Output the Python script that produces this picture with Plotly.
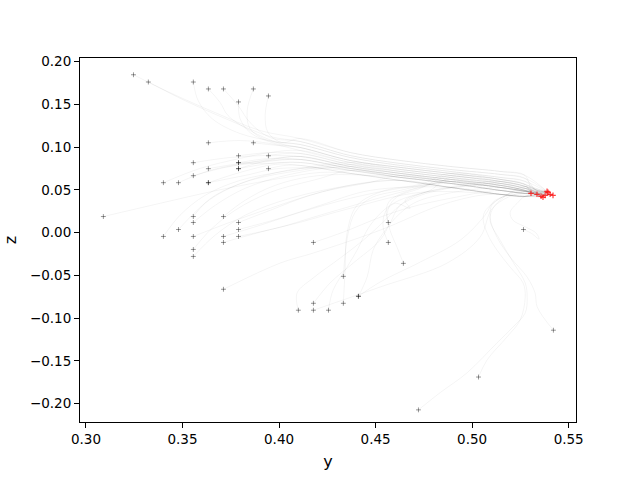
import plotly.graph_objects as go

# --- red end points (final positions) ---
end_y = [0.5305, 0.5336, 0.5357, 0.5378, 0.5388, 0.5393, 0.5404, 0.5419, 0.5367]
end_z = [0.0461, 0.0449, 0.0426, 0.0437, 0.0484, 0.0472, 0.0449, 0.0437, 0.0414]

# --- shared bundle the paths run into before the end cluster ---
lane_y = [0.4109, 0.4368, 0.4627, 0.4886, 0.5145, 0.5274]
lane_z = [
    [0.1102, 0.0938, 0.0845, 0.0775, 0.0717, 0.0670],
    [0.1067, 0.0903, 0.0810, 0.0740, 0.0682, 0.0635],
    [0.1032, 0.0880, 0.0787, 0.0717, 0.0647, 0.0600],
    [0.0997, 0.0845, 0.0764, 0.0694, 0.0624, 0.0565],
    [0.0962, 0.0822, 0.0740, 0.0670, 0.0600, 0.0542],
    [0.0927, 0.0798, 0.0717, 0.0647, 0.0577, 0.0519],
    [0.0892, 0.0775, 0.0694, 0.0624, 0.0554, 0.0495],
    [0.0857, 0.0752, 0.0670, 0.0600, 0.0530, 0.0484],
    [0.0822, 0.0729, 0.0647, 0.0577, 0.0495, 0.0460],
    [0.0787, 0.0694, 0.0612, 0.0530, 0.0449, 0.0425],
]

# --- start of each path (first point = start marker) ---
lead_y = [
    [0.3246, 0.3436, 0.3669, 0.3902],
    [0.3323, 0.3513, 0.3746, 0.3954],
    [0.3556, 0.3581, 0.3653, 0.3798, 0.3980],
    [0.3634, 0.3695, 0.3736, 0.3850, 0.4005],
    [0.3712, 0.3788, 0.3850, 0.3954],
    [0.3867, 0.3835, 0.3850, 0.3943],
    [0.3945, 0.3928, 0.3943, 0.4016],
    [0.3790, 0.3798, 0.3850, 0.3980],
    [0.3634, 0.3798, 0.3954],
    [0.3867, 0.3995],
    [0.3790, 0.3954],
    [0.3945],
    [0.3556, 0.3746, 0.3928],
    [0.3790, 0.3954],
    [0.3790, 0.3928],
    [0.3634, 0.3798, 0.3954],
    [0.3790, 0.3954],
    [0.3790, 0.3943],
    [0.3945, 0.4031],
    [0.3556, 0.3721, 0.3902],
    [0.3401, 0.3591, 0.3798, 0.3954],
    [0.3479, 0.3643, 0.3850, 0.3980],
    [0.3634, 0.3798, 0.3980],
    [0.3634, 0.3824, 0.4005],
    [0.3090, 0.3384, 0.3679, 0.4005, 0.4213],
    [0.3556, 0.3617, 0.3721, 0.3876, 0.4109],
    [0.3712, 0.3824, 0.3980, 0.4213],
    [0.3556, 0.3669, 0.3824, 0.4057],
    [0.3790, 0.3954, 0.4161, 0.4420],
    [0.3479, 0.3565, 0.3669, 0.3850, 0.4109],
    [0.3790, 0.4005, 0.4213, 0.4472],
    [0.3401, 0.3487, 0.3617, 0.3798, 0.4057],
    [0.3556, 0.3746, 0.3954, 0.4213, 0.4472],
    [0.3712, 0.3902, 0.4109, 0.4368, 0.4627],
    [0.3790, 0.4005, 0.4176, 0.4352, 0.4627],
    [0.3712, 0.3902, 0.4109, 0.4368, 0.4731],
    [0.3556, 0.3643, 0.3772, 0.3954, 0.4213],
    [0.3556, 0.3669, 0.3824, 0.4057, 0.4368],
    [0.3712, 0.4005, 0.4176, 0.4523, 0.4834, 0.5041],
    [0.4566, 0.4555, 0.4575, 0.4679, 0.4757],
    [0.4178, 0.4332, 0.4523, 0.4679, 0.4886],
    [0.4566, 0.4539, 0.4550, 0.4601, 0.4679, 0.4653, 0.4782],
    [0.4644, 0.4611, 0.4575, 0.4560, 0.4601, 0.4731],
    [0.5266, 0.5306, 0.5347, 0.5332, 0.5280, 0.5212, 0.5197, 0.5238],
    [0.4333, 0.4342, 0.4358, 0.4394, 0.4472, 0.4627],
    [0.4411, 0.4456, 0.4487, 0.4539, 0.4627, 0.4731],
    [0.4411, 0.4523, 0.4731, 0.4938, 0.5067, 0.5119],
    [0.4178, 0.4264, 0.4384, 0.4523, 0.4575, 0.4627, 0.4757],
    [0.4333, 0.4342, 0.4352, 0.4404, 0.4549, 0.4731],
    [0.4100, 0.4093, 0.4176, 0.4316, 0.4436, 0.4549, 0.4627, 0.4782],
    [0.4178, 0.4523, 0.4870, 0.5041, 0.5109],
    [0.4256, 0.4280, 0.4352, 0.4404, 0.4472, 0.4575, 0.4731],
    [0.5421, 0.5337, 0.5326, 0.5285, 0.5197, 0.5129, 0.5093, 0.5109],
    [0.5033, 0.5078, 0.5181, 0.5249, 0.5275, 0.5264, 0.5197, 0.5129, 0.5078, 0.5057, 0.5083],
    [0.4722, 0.4834, 0.4974, 0.5129, 0.5212, 0.5275, 0.5285, 0.5275, 0.5212, 0.5145, 0.5093, 0.5119],
]
lead_z = [
    [0.1848, 0.1638, 0.1405, 0.1195],
    [0.1763, 0.1545, 0.1312, 0.1125],
    [0.1763, 0.1545, 0.1335, 0.1160, 0.1067],
    [0.1682, 0.1522, 0.1370, 0.1195, 0.1043],
    [0.1682, 0.1487, 0.1288, 0.1113],
    [0.1682, 0.1428, 0.1218, 0.1078],
    [0.1600, 0.1370, 0.1172, 0.1055],
    [0.1530, 0.1335, 0.1172, 0.1043],
    [0.1052, 0.1078, 0.1043],
    [0.1052, 0.1020],
    [0.0900, 0.0938],
    [0.0900],
    [0.0819, 0.0880, 0.0904],
    [0.0819, 0.0869],
    [0.0819, 0.0810],
    [0.0749, 0.0810, 0.0845],
    [0.0749, 0.0810],
    [0.0749, 0.0845],
    [0.0749, 0.0787],
    [0.0667, 0.0764, 0.0822],
    [0.0585, 0.0752, 0.0869, 0.0938],
    [0.0585, 0.0729, 0.0822, 0.0869],
    [0.0585, 0.0705, 0.0799],
    [0.0585, 0.0670, 0.0752],
    [0.0189, 0.0344, 0.0495, 0.0635, 0.0705],
    [0.0189, 0.0344, 0.0495, 0.0635, 0.0752],
    [0.0189, 0.0379, 0.0554, 0.0670],
    [0.0119, 0.0320, 0.0519, 0.0682],
    [0.0119, 0.0262, 0.0437, 0.0577],
    [0.0037, 0.0239, 0.0437, 0.0612, 0.0729],
    [0.0037, 0.0169, 0.0320, 0.0495],
    [-0.0044, 0.0204, 0.0437, 0.0612, 0.0729],
    [-0.0044, 0.0122, 0.0285, 0.0472, 0.0589],
    [-0.0044, 0.0087, 0.0239, 0.0402, 0.0519],
    [-0.0044, 0.0064, 0.0180, 0.0297, 0.0472],
    [-0.0114, 0.0006, 0.0122, 0.0285, 0.0472],
    [-0.0196, 0.0029, 0.0262, 0.0472, 0.0635],
    [-0.0278, -0.0029, 0.0204, 0.0402, 0.0554],
    [-0.0662, -0.0356, -0.0239, 0.0029, 0.0320, 0.0437],
    [0.0119, 0.0262, 0.0379, 0.0495, 0.0542],
    [-0.0114, 0.0006, 0.0180, 0.0297, 0.0402],
    [-0.0114, 0.0064, 0.0239, 0.0344, 0.0285, 0.0379, 0.0495],
    [-0.0359, -0.0169, 0.0029, 0.0227, 0.0402, 0.0519],
    [0.0037, -0.0006, -0.0076, -0.0006, 0.0064, 0.0145, 0.0239, 0.0355],
    [-0.0511, -0.0263, -0.0006, 0.0239, 0.0402, 0.0495],
    [-0.0744, -0.0519, -0.0205, -0.0006, 0.0227, 0.0379],
    [-0.0744, -0.0578, -0.0344, -0.0088, 0.0204, 0.0379],
    [-0.0826, -0.0589, -0.0356, -0.0088, 0.0110, 0.0320, 0.0472],
    [-0.0826, -0.0438, -0.0006, 0.0320, 0.0495, 0.0565],
    [-0.0907, -0.0706, -0.0531, -0.0298, -0.0088, 0.0145, 0.0320, 0.0472],
    [-0.0907, -0.0636, -0.0356, -0.0053, 0.0297],
    [-0.0907, -0.0671, -0.0403, -0.0205, 0.0087, 0.0320, 0.0460],
    [-0.1141, -0.0869, -0.0706, -0.0519, -0.0286, -0.0053, 0.0180, 0.0344],
    [-0.1689, -0.1487, -0.1219, -0.1021, -0.0753, -0.0589, -0.0403, -0.0205, -0.0006, 0.0180, 0.0297],
    [-0.2073, -0.1872, -0.1639, -0.1289, -0.1103, -0.0939, -0.0753, -0.0589, -0.0344, -0.0088, 0.0145, 0.0320],
]
lane_of = [0, 1, 2, 3, 1, 2, 0, 3, 4, 3, 5, 6, 5, 7, 8, 7, 8, 6, 9, 7,
           4, 6, 9, 8, 9, 7, 8, 6, 9, 5, 9, 4, 7, 8, 7, 9, 8, 9, 9, 6,
           8, 5, 4, 9, 7, 7, 8, 6, 3, 5, 7, 4, 6, 5, 4]
join_at = [0, 0, 0, 0, 0, 0, 0, 0, 0, 0, 0, 0, 0, 0, 0, 0, 0, 0, 0, 0,
           0, 0, 0, 1, 1, 1, 2, 1, 2, 1, 3, 1, 2, 3, 3, 4, 1, 2, 4, 3,
           4, 3, 3, 5, 3, 4, 5, 4, 3, 4, 5, 4, 5, 5, 5]
end_of = [0, 1, 2, 3, 4, 5, 6, 7, 8, 0, 1, 2, 3, 4, 5, 6, 7, 8, 0, 1,
          2, 3, 4, 5, 6, 7, 8, 0, 1, 2, 3, 4, 5, 6, 7, 8, 0, 1, 2, 3,
          4, 5, 6, 7, 8, 0, 1, 2, 3, 4, 5, 6, 7, 8, 0]

fig = go.Figure()

# trajectories
for i in range(len(lead_y)):
    lane = lane_of[i]
    j = join_at[i]
    ys = lead_y[i] + lane_y[j:] + [end_y[end_of[i]]]
    zs = lead_z[i] + lane_z[lane][j:] + [end_z[end_of[i]]]
    fig.add_trace(go.Scatter(x=ys, y=zs, mode='lines',
                             line=dict(color='rgba(0,0,0,0.08)', width=0.6,
                                       shape='spline', smoothing=1.0),
                             hoverinfo='skip', showlegend=False))

# start markers
fig.add_trace(go.Scatter(x=[p[0] for p in lead_y], y=[p[0] for p in lead_z],
                         mode='markers', showlegend=False,
                         marker=dict(symbol='cross-thin', size=3.5,
                                     line=dict(width=1, color='rgba(0,0,0,0.4)'))))

# end markers
fig.add_trace(go.Scatter(x=end_y, y=end_z, mode='markers', showlegend=False,
                         marker=dict(symbol='cross-thin', size=4,
                                     line=dict(width=1.2, color='rgba(255,0,0,0.75)'))))

axis_style = dict(showline=True, linecolor='black', linewidth=1, mirror=True,
                  ticks='outside', ticklen=5, tickwidth=1, tickcolor='black',
                  showgrid=False, zeroline=False, tickformat='.2f', automargin=False,
                  tickfont=dict(size=13.5, color='black'))

fig.update_layout(
    width=640, height=480,
    plot_bgcolor='white', paper_bgcolor='white',
    font=dict(family='DejaVu Sans', color='black', size=13.5),
    margin=dict(l=80, r=64, t=58, b=58),
    xaxis=dict(range=[0.2969, 0.5538], dtick=0.05, tick0=0.30,
               title=dict(text='y', standoff=9), **axis_style),
    yaxis=dict(range=[-0.2215, 0.2044], dtick=0.05, tick0=0.0,
               title=dict(text='z', standoff=9), **axis_style),
)

fig.write_html("out.html", config={'displayModeBar': False},
               post_script="document.body.style.margin='0';")
